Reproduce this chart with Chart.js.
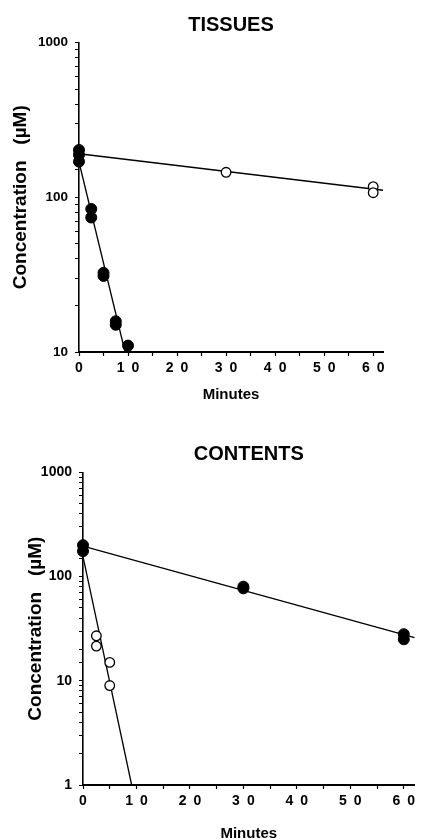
<!DOCTYPE html>
<html><head><meta charset="utf-8">
<script src="https://cdn.jsdelivr.net/npm/chart.js@4/dist/chart.umd.min.js"></script>
<style>
html,body{margin:0;padding:0;background:#fff;overflow:hidden;width:421px;height:840px;}
canvas{position:absolute;left:0;}
#c1{top:0}
#c2{top:420px}
</style></head><body>
<canvas id="c1" width="421" height="420"></canvas>
<canvas id="c2" width="421" height="440"></canvas>
<script>
// ---------- data ----------
const xTickValues = [0, 10, 20, 30, 40, 50, 60];
const yTickValuesTissues = [10, 100, 1000];
const yTickValuesContents = [1, 10, 100, 1000];

// TISSUES panel
const tissuesFilledMin  = [0, 0, 0, 2.5, 2.5, 5, 5, 7.5, 7.5, 10];
const tissuesFilledConc = [202, 188, 170, 84, 74, 32.5, 31, 15.8, 15, 11];
const tissuesOpenMin    = [30, 60, 60];
const tissuesOpenConc   = [145, 117, 107];
const tissuesFilledFitMin  = [0, 9.4];
const tissuesFilledFitConc = [169, 10];
const tissuesOpenFitMin    = [0, 62];
const tissuesOpenFitConc   = [191, 111];

// CONTENTS panel
const contentsFilledMin  = [0, 0, 30, 30, 60, 60];
const contentsFilledConc = [200, 175, 80, 77, 28, 25];
const contentsOpenMin    = [2.5, 2.5, 5, 5];
const contentsOpenConc   = [27, 21.5, 15, 9];
const contentsFilledFitMin  = [0, 62];
const contentsFilledFitConc = [196, 26];
const contentsOpenFitMin    = [0, 9.1];
const contentsOpenFitConc   = [155, 1];

// ---------- helpers ----------
const zip = (xs, ys) => xs.map((x, i) => ({x: x, y: ys[i]}));
const FAMILY = "'Liberation Sans', Arial, Helvetica, sans-serif";
Chart.defaults.color = '#000';
Chart.defaults.font.family = FAMILY;

function isPow10(v) {
  const l = Math.log10(v);
  return Math.abs(l - Math.round(l)) < 1e-9;
}

function makePanel(id, g) {
  const ds = [
    {label: 'filled', data: zip(g.fMin, g.fConc), showLine: false, pointRadius: 5.5,
     pointBackgroundColor: '#000', pointBorderColor: '#000', pointBorderWidth: 1, clip: false},
    {label: 'open', data: zip(g.oMin, g.oConc), showLine: false, pointRadius: 4.8,
     pointBackgroundColor: '#fff', pointBorderColor: '#000', pointBorderWidth: 1.3, clip: false},
    {label: 'filled fit', data: zip(g.ffMin, g.ffConc), showLine: true, pointRadius: 0,
     borderColor: '#000', borderWidth: 1.3, clip: false},
    {label: 'open fit', data: zip(g.ofMin, g.ofConc), showLine: true, pointRadius: 0,
     borderColor: '#000', borderWidth: 1.3, clip: false}
  ];
  return new Chart(document.getElementById(id), {
    type: 'scatter',
    data: {datasets: ds},
    options: {
      responsive: false,
      animation: false,
      events: [],
      layout: {padding: {left: 0, right: g.padRight, top: 0, bottom: 0}},
      plugins: {
        legend: {display: false},
        tooltip: {enabled: false},
        title: {display: true, text: g.title, fullSize: false, color: '#000',
                font: {size: 20, weight: 'bold', family: FAMILY},
                padding: {top: g.titleTop, bottom: g.titleBottom}}
      },
      scales: {
        x: {
          type: 'linear', min: 0, max: 62,
          afterFit: s => { s.height = g.xHeight; },
          ticks: {stepSize: 5, includeBounds: false, autoSkip: false, maxRotation: 0,
                  padding: 4, color: '#000', font: {size: 14, weight: 'bold', family: FAMILY},
                  callback: v => xTickValues.includes(v) ? String(v).split('').join('\u2002') : ''},
          grid: {drawOnChartArea: false, drawTicks: true, tickLength: 4, color: '#000', tickWidth: 1.2},
          border: {display: true, color: '#000', width: 2},
          title: {display: true, text: 'Minutes', color: '#000',
                  font: {size: 15, weight: 'bold', family: FAMILY},
                  padding: {top: 0, bottom: g.xTitleBottom}}
        },
        y: {
          type: 'logarithmic', min: g.yMin, max: 1000,
          afterFit: s => { s.width = g.yWidth; },
          ticks: {autoSkip: false, padding: 7, color: '#000',
                  font: {size: g.yTickSize, weight: 'bold', family: FAMILY},
                  callback: v => (isPow10(v) && g.yTicks.includes(Math.round(v))) ? String(Math.round(v)) : ''},
          grid: {drawOnChartArea: false, drawTicks: true, tickLength: 4, color: '#000', tickWidth: 1},
          border: {display: true, color: '#000', width: 1.6},
          title: {display: true, text: 'Concentration   (\u00B5M)', color: '#000',
                  font: {size: 19, weight: 'bold', family: FAMILY},
                  padding: {top: g.yTitleTop, bottom: 0}}
        }
      }
    }
  });
}

makePanel('c1', {
  title: 'TISSUES', titleTop: 13.8, titleBottom: 4.7, padRight: 38,
  xHeight: 68, xTitleBottom: 16.5, yWidth: 79, yTitleTop: 9, yMin: 10, yTickSize: 13.5,
  yTicks: yTickValuesTissues,
  fMin: tissuesFilledMin, fConc: tissuesFilledConc,
  oMin: tissuesOpenMin, oConc: tissuesOpenConc,
  ffMin: tissuesFilledFitMin, ffConc: tissuesFilledFitConc,
  ofMin: tissuesOpenFitMin, ofConc: tissuesOpenFitConc
});

makePanel('c2', {
  title: 'CONTENTS', titleTop: 22.5, titleBottom: 5.8, padRight: 2,
  xHeight: 75, xTitleBottom: 17.5, yWidth: 83, yTitleTop: 24, yMin: 1, yTickSize: 14,
  yTicks: yTickValuesContents,
  fMin: contentsFilledMin, fConc: contentsFilledConc,
  oMin: contentsOpenMin, oConc: contentsOpenConc,
  ffMin: contentsFilledFitMin, ffConc: contentsFilledFitConc,
  ofMin: contentsOpenFitMin, ofConc: contentsOpenFitConc
});
</script>
</body></html>
